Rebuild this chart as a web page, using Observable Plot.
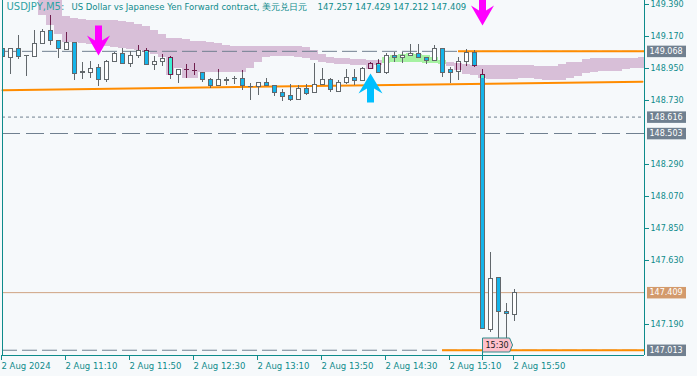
<!DOCTYPE html>
<html><head><meta charset="utf-8">
<script src="https://cdn.jsdelivr.net/npm/d3@7"></script>
<script src="https://cdn.jsdelivr.net/npm/@observablehq/plot@0.6"></script>
<style>
html,body{margin:0;padding:0;background:#f6f9fb;}
#chart{width:697px;height:376px;overflow:hidden;}
</style></head><body><div id="chart"></div>
<script>
// ---------- data ----------
const titleSymbol = "USDJPY,M5:";
const titleName = "US Dollar vs Japanese Yen Forward contract, 美元兑日元";
const titleQuote = "147.257 147.429 147.212 147.409";

const timeTickIndex = [0, 8, 16, 24, 32, 40, 48, 56, 64];
const timeTickLabels = ["2 Aug 2024", "2 Aug 11:10", "2 Aug 11:50", "2 Aug 12:30", "2 Aug 13:10", "2 Aug 13:50", "2 Aug 14:30", "2 Aug 15:10", "2 Aug 15:50"];
const priceTicks = [149.39, 149.17, 148.95, 148.73, 148.29, 148.07, 147.85, 147.63, 147.19];

const open = [149.085,149.021,149.085,149.036,149.028,149.120,149.206,149.136,149.074,149.127,
148.916,148.920,148.952,148.874,148.993,149.051,148.982,149.039,149.067,148.975,
148.998,149.021,148.902,148.941,148.934,148.920,148.872,148.828,148.861,148.879,
148.879,148.826,148.821,148.852,148.828,148.783,148.764,148.735,148.806,148.783,
148.838,148.874,148.787,148.852,148.886,148.863,148.948,148.982,148.920,149.035,
149.021,149.039,149.051,149.021,149.000,149.081,148.941,148.925,148.996,149.058,
148.902,147.154,147.511,147.279,147.257];
const high = [149.087,149.087,149.177,149.039,149.211,149.218,149.314,149.136,149.200,149.129,
148.989,148.998,148.975,149.005,149.062,149.085,149.067,149.108,149.085,149.035,
149.044,149.035,148.943,148.975,148.984,148.922,148.883,148.943,148.890,148.895,
148.936,148.847,148.849,148.881,148.833,148.806,148.838,148.833,148.838,148.982,
148.952,148.883,148.868,148.943,148.943,148.955,148.993,149.015,149.051,149.058,
149.060,149.113,149.113,149.021,149.108,149.084,148.957,149.028,149.081,149.074,
148.941,147.687,147.513,147.336,147.429];
const low = [149.026,148.909,149.012,148.897,149.028,149.120,149.108,149.017,149.074,148.868,
148.874,148.879,148.828,148.856,148.993,148.982,148.959,149.021,148.971,148.936,
148.966,148.872,148.845,148.883,148.902,148.856,148.815,148.828,148.833,148.840,
148.799,148.730,148.764,148.826,148.760,148.725,148.725,148.735,148.764,148.783,
148.833,148.787,148.787,148.838,148.833,148.861,148.948,148.920,148.907,148.993,
148.984,149.035,149.021,148.975,149.000,148.890,148.847,148.868,148.964,148.960,
147.160,147.137,147.057,147.092,147.212];
const close = [149.026,149.085,149.028,149.034,149.120,149.204,149.142,149.081,149.127,148.914,
148.929,148.948,148.872,148.998,149.051,148.982,149.039,149.067,148.975,148.998,
149.017,148.902,148.943,148.939,148.933,148.872,148.828,148.868,148.874,148.878,
148.828,148.824,148.849,148.828,148.783,148.753,148.735,148.806,148.776,148.838,
148.874,148.799,148.852,148.886,148.863,148.948,148.982,148.920,149.035,149.021,
149.035,149.051,149.021,149.000,149.081,148.920,148.922,148.998,149.058,148.964,
147.160,147.504,147.279,147.262,147.409];

// Ichimoku Senkou spans (cloud), bar index 0..80 (shifted forward)
const senkouA = [null,null,null,null,null,149.314,149.246,149.184,149.129,149.129,
149.122,149.115,149.108,149.101,149.094,149.088,149.081,149.074,149.060,149.046,
149.026,148.902,148.950,148.881,148.881,148.922,148.922,148.922,148.922,148.922,
148.922,148.950,148.991,149.026,149.032,149.032,149.032,149.026,149.019,149.005,
148.991,148.984,148.977,148.977,148.971,148.971,148.943,148.971,149.026,149.039,
149.046,149.053,149.046,149.039,149.026,149.005,148.964,148.936,148.909,148.902,
148.881,148.874,148.874,148.874,148.874,148.881,148.881,148.874,148.868,148.868,
148.868,148.881,148.895,148.916,148.922,148.929,148.929,148.929,148.943,148.950,148.950];
const senkouB = [null,null,null,null,null,149.486,149.486,149.452,149.308,149.294,
149.287,149.280,149.280,149.280,149.280,149.273,149.266,149.252,149.239,149.211,
149.184,149.156,149.156,149.149,149.136,149.136,149.129,149.122,149.108,149.101,
149.101,149.101,149.101,149.101,149.101,149.101,149.101,149.101,149.094,149.074,
149.046,149.026,149.019,149.019,149.012,149.012,149.005,149.005,148.984,148.991,
148.991,148.991,148.991,148.984,148.984,148.977,148.991,148.984,148.977,148.971,
148.971,148.971,148.971,148.971,148.971,148.971,148.971,148.964,148.964,148.964,
148.977,148.991,148.991,149.012,149.019,149.019,149.019,149.019,149.019,149.019,149.026];

const downArrowIndex = [12, 60];
const downArrowPrice = [149.039, 149.246];
const upArrowIndex = [46];
const upArrowPrice = [148.916];

const trendIndex = [0, 80];
const trendPrice = [148.801, 148.859];
const resistance = 149.068, resistanceFrom = 57;
const support = 147.013, supportFrom = 55;
const levelDotted = 148.616;
const levelDashed = 148.503;
const bid = 147.409;
const timeTagIndex = 60, timeTagLabel = "15:30";

// ---------- styles ----------
const X_MAX = 80.25, Y_MIN = 146.9768, Y_MAX = 149.4175;
const teal = "#0e8b8b", gray = "#62686c", blue = "#14b4ea", maroon = "#701f4e",
      aqua = "#3ff0d4", thistle = "#d8bfd8", green = "#a6f2a2", orange = "#ff8c00", slate = "#708090";

const bars = open.map((o, i) => ({i, open: o, high: high[i], low: low[i], close: close[i]}));
const cloud = senkouA.map((a, i) => ({i, a, b: senkouB[i]})).filter(d => d.a != null && d.b != null);
const clampX = v => Math.max(0, Math.min(X_MAX, v));
const clampY = v => Math.max(Y_MIN, Math.min(Y_MAX + 0.01, v));
const downArrows = downArrowIndex.map((i, j) => ({i, p: downArrowPrice[j]}));
const upArrows = upArrowIndex.map((i, j) => ({i, p: upArrowPrice[j]}));
const trend = trendIndex.map((i, j) => ({i, p: trendPrice[j]}));

const arrowDown = {draw(ctx, size) { const s = Math.sqrt(size / Math.PI) / 10;
  ctx.moveTo(0, 0); ctx.lineTo(11.5*s, -20*s); ctx.lineTo(3.5*s, -15*s); ctx.lineTo(3.5*s, -30*s);
  ctx.lineTo(-3.5*s, -30*s); ctx.lineTo(-3.5*s, -15*s); ctx.lineTo(-11.5*s, -20*s); ctx.closePath(); }};
const arrowUp = {draw(ctx, size) { const s = Math.sqrt(size / Math.PI) / 10;
  ctx.moveTo(0, 0); ctx.lineTo(12*s, 20*s); ctx.lineTo(3.5*s, 15*s); ctx.lineTo(3.5*s, 29*s);
  ctx.lineTo(-3.5*s, 29*s); ctx.lineTo(-3.5*s, 15*s); ctx.lineTo(-12*s, 20*s); ctx.closePath(); }};

const bodyOpts = {x1: d => d.i - 0.25, x2: d => d.i + 0.25, y1: "open", y2: "close", shapeRendering: "crispEdges", clip: true};
const wickOpts = {x: "i", y1: "low", y2: "high", shapeRendering: "crispEdges", clip: true};
const titleOpts = {frameAnchor: "top-left", dy: 3, lineAnchor: "top", textAnchor: "start", fontSize: 8.5};

const chart = Plot.plot({
  width: 697, height: 376,
  marginLeft: 2, marginRight: 53, marginTop: 0, marginBottom: 21,
  style: {background: "#f6f9fb", fontFamily: "'DejaVu Sans', sans-serif", fontSize: "8px", color: teal},
  x: {domain: [0, X_MAX]},
  y: {domain: [Y_MIN, Y_MAX]},
  marks: [
    // Kumo cloud
    Plot.rect(cloud.filter(d => d.b >= d.a), {x1: d => clampX(d.i - 0.5), x2: d => clampX(d.i + 0.5), y1: d => clampY(d.a), y2: d => clampY(d.b), fill: thistle, shapeRendering: "crispEdges", ariaDescription: "cloud-thistle"}),
    Plot.rect(cloud.filter(d => d.a > d.b), {x1: d => clampX(d.i - 0.5), x2: d => clampX(d.i + 0.5), y1: "b", y2: "a", fill: green, shapeRendering: "crispEdges"}),
    // horizontal levels
    Plot.ruleY([resistance, support], {stroke: slate, strokeDasharray: "15,5"}),
    Plot.ruleY([levelDotted], {stroke: slate, strokeDasharray: "3,3"}),
    Plot.ruleY([levelDashed], {stroke: slate, strokeDasharray: "18,6"}),
    Plot.ruleY([bid], {stroke: "#cfa383"}),
    Plot.line(trend, {x: "i", y: "p", stroke: orange, strokeWidth: 2}),
    Plot.ruleY([{p: resistance, from: resistanceFrom}, {p: support, from: supportFrom}], {y: "p", x1: "from", x2: () => X_MAX, stroke: orange, strokeWidth: 2}),
    // candles
    Plot.ruleX(bars, {...wickOpts, stroke: gray}),
    Plot.rect(bars, {...bodyOpts, fill: d => d.close < d.open ? blue : "#ffffff", stroke: gray}),
    // candle parts inside the cloud
    Plot.ruleX(bars, {...wickOpts, stroke: maroon, ariaDescription: "overlay"}),
    Plot.rect(bars, {...bodyOpts, fill: d => d.close < d.open ? aqua : thistle, stroke: maroon, ariaDescription: "overlay"}),
    // chart frame
    Plot.ruleX([0, X_MAX], {stroke: teal}),
    Plot.ruleY([Y_MIN], {stroke: teal}),
    // axes
    Plot.axisX(timeTickIndex, {anchor: "bottom", tickSize: 5, tickPadding: 2, textAnchor: "start", dx: -1, fontSize: 8.5, tickFormat: d => timeTickLabels[timeTickIndex.indexOf(d)], label: null, color: teal}),
    Plot.axisY(priceTicks, {anchor: "right", tickSize: 4, tickPadding: 2, fontSize: 8, tickFormat: d => d.toFixed(3), label: null, color: teal}),
    // signal arrows
    Plot.dot(downArrows, {x: "i", y: "p", r: 10, symbol: arrowDown, fill: "#ff00ff", stroke: "none"}),
    Plot.dot(upArrows, {x: "i", y: "p", r: 10, symbol: arrowUp, fill: "#00bfff", stroke: "none"}),
    // title
    Plot.text([titleSymbol], {...titleOpts, dx: 4, dy: 2, fontSize: 10, fill: "#2fa3a3"}),
    Plot.text([titleName], {...titleOpts, dx: 69, fill: teal}),
    Plot.text([titleQuote], {...titleOpts, dx: 315, fill: teal}),
    // price tags
    Plot.text([resistance, levelDotted, levelDashed, support], {y: d => d, text: d => d.toFixed(3), frameAnchor: "right", dx: 5, textAnchor: "start", fill: "white", fontSize: 8, ariaDescription: "tag-gray"}),
    Plot.text([bid], {y: d => d, text: d => d.toFixed(3), frameAnchor: "right", dx: 5, textAnchor: "start", fill: "white", fontSize: 8, ariaDescription: "tag-bid"}),
    // time tag
    Plot.ruleX([timeTagIndex], {stroke: teal, insetTop: 352, insetBottom: -5}),
    Plot.text([timeTagLabel], {x: () => timeTagIndex, frameAnchor: "bottom", dy: -8, dx: 3, textAnchor: "start", fill: "#202020", fontSize: 8, ariaDescription: "time-tag"})
  ]
});
document.getElementById("chart").append(chart);

// ---------- post-processing: label boxes and cloud clip ----------
const ns = "http://www.w3.org/2000/svg";
const byDesc = d => Array.from(chart.querySelectorAll("g")).filter(g => g.getAttribute("aria-description") === d);
function boxes(desc, draw) {
  byDesc(desc).forEach(g => g.querySelectorAll("text").forEach(t => {
    const b = t.getBBox();
    const el = draw(b);
    const tf = t.getAttribute("transform");
    if (tf) el.setAttribute("transform", tf);
    t.parentNode.insertBefore(el, t);
  }));
}
function tagRect(fill) {
  return b => {
    const r = document.createElementNS(ns, "rect");
    r.setAttribute("x", b.x - 2.5); r.setAttribute("y", b.y + b.height / 2 - 5.75);
    r.setAttribute("width", 39); r.setAttribute("height", 11.5);
    r.setAttribute("fill", fill);
    return r;
  };
}
boxes("tag-gray", tagRect(slate));
boxes("tag-bid", tagRect("#d39a6c"));
boxes("time-tag", b => {
  const p = document.createElementNS(ns, "path");
  const l = b.x - 3, r = b.x + b.width + 1, cy = b.y + b.height / 2, t = cy - 7, bt = cy + 7;
  p.setAttribute("d", `M${l},${t}H${r}L${r + 3},${cy}L${r},${bt}H${l}Z`);
  p.setAttribute("fill", "#ffc0cb"); p.setAttribute("stroke", "#2e8b8b");
  return p;
});
const defs = document.createElementNS(ns, "defs");
const cp = document.createElementNS(ns, "clipPath");
cp.setAttribute("id", "kumo-clip");
byDesc("cloud-thistle").forEach(cloudG => {
  const ctf = cloudG.getAttribute("transform");
  cloudG.querySelectorAll(":scope > rect").forEach(r => {
    const c = r.cloneNode();
    if (ctf) c.setAttribute("transform", ctf);
    cp.appendChild(c);
  });
});
defs.appendChild(cp);
chart.insertBefore(defs, chart.firstChild);
byDesc("overlay").forEach(g => {
  const w = document.createElementNS(ns, "g");
  w.setAttribute("clip-path", "url(#kumo-clip)");
  g.parentNode.insertBefore(w, g);
  w.appendChild(g);
});
</script>
</body></html>
